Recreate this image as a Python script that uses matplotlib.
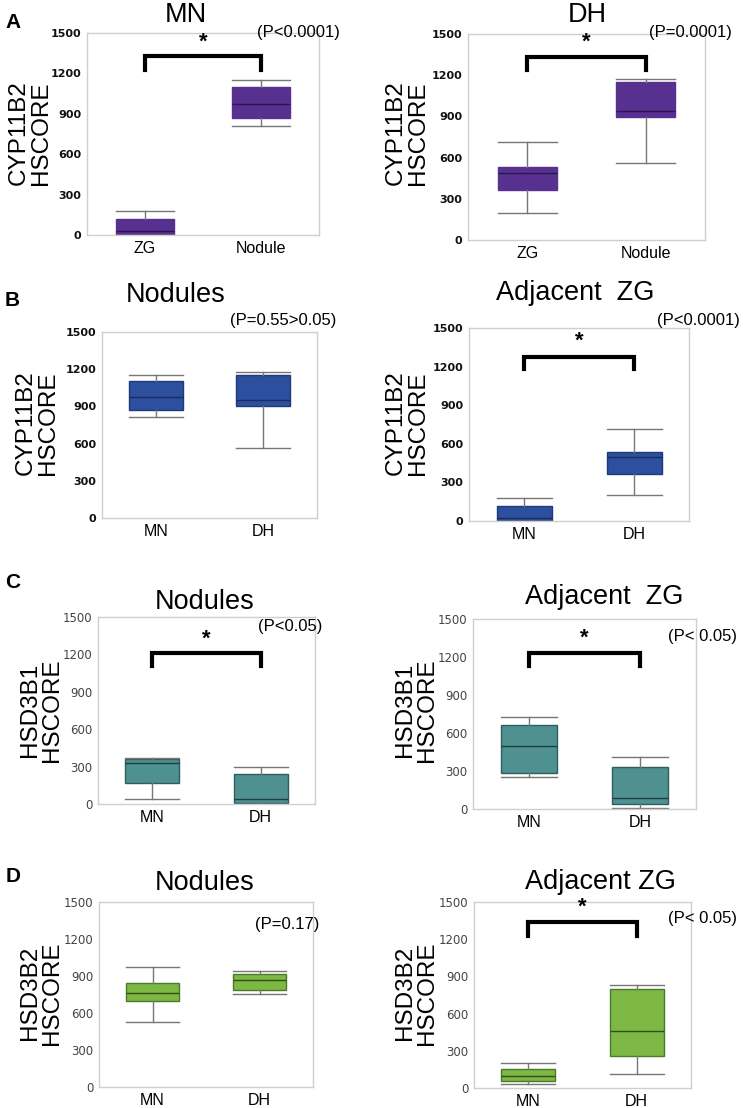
import matplotlib
matplotlib.use("Agg")
import matplotlib.pyplot as plt

W, H = 743, 1108

# box stats per panel: [group1, group2] -> whislo, q1, med, q3, whishi
a1_groups = ["ZG", "Nodule"]
a1_whislo = [0, 808]
a1_q1 = [0, 868]
a1_med = [30, 972]
a1_q3 = [119, 1096]
a1_whishi = [181, 1150]

a2_groups = ["ZG", "Nodule"]
a2_whislo = [194, 559]
a2_q1 = [362, 895]
a2_med = [486, 941]
a2_q3 = [530, 1148]
a2_whishi = [710, 1172]

b1_groups = ["MN", "DH"]
b1_whislo = [814, 563]
b1_q1 = [868, 900]
b1_med = [972, 948]
b1_q3 = [1101, 1152]
b1_whishi = [1152, 1179]

b2_groups = ["MN", "DH"]
b2_whislo = [0, 200]
b2_q1 = [0, 369]
b2_med = [26, 494]
b2_q3 = [120, 533]
b2_whishi = [182, 715]

c1_groups = ["MN", "DH"]
c1_whislo = [37, 0]
c1_q1 = [166, 5]
c1_med = [327, 37]
c1_q3 = [359, 238]
c1_whishi = [372, 295]

c2_groups = ["MN", "DH"]
c2_whislo = [252, 8]
c2_q1 = [284, 37]
c2_med = [496, 84]
c2_q3 = [662, 331]
c2_whishi = [725, 410]

d1_groups = ["MN", "DH"]
d1_whislo = [527, 757]
d1_q1 = [700, 784]
d1_med = [762, 870]
d1_q3 = [843, 919]
d1_whishi = [970, 938]

d2_groups = ["MN", "DH"]
d2_whislo = [32, 113]
d2_q1 = [56, 255]
d2_med = [97, 460]
d2_q3 = [151, 796]
d2_whishi = [202, 831]

yticks = [0, 300, 600, 900, 1200, 1500]

SANS = ["Liberation Sans", "DejaVu Sans"]

fig = plt.figure(figsize=(W / 100, H / 100), dpi=100)


def fx(x):
    return x / W


def fy(y):
    return 1 - y / H


def panel(rect, groups, whislo, q1, med, q3, whishi, color, edge, medc,
          bold_ticks, title, title_xy, ylab, ylab_xy, ptext, p_xy,
          bracket=None):
    x0, y0, x1, y1 = rect
    ax = fig.add_axes([fx(x0), fy(y1), (x1 - x0) / W, (y1 - y0) / H])
    stats = []
    for i, g in enumerate(groups):
        stats.append(dict(label=g, whislo=whislo[i], q1=q1[i], med=med[i],
                          q3=q3[i], whishi=whishi[i], fliers=[]))
    ax.bxp(stats, positions=[1, 2], widths=0.5, capwidths=0.5,
           showfliers=False, patch_artist=True,
           boxprops=dict(facecolor=color, edgecolor=edge, linewidth=1),
           medianprops=dict(color=medc, linewidth=1),
           whiskerprops=dict(color="#777777", linewidth=1),
           capprops=dict(color="#777777", linewidth=1))
    ax.set_xlim(0.5, 2.5)
    ax.set_ylim(0, 1500)
    ax.set_yticks(yticks)
    ax.set_xticks([1, 2])
    ax.set_xticklabels(groups, fontsize=11.5, family=SANS)
    if bold_ticks:
        ax.set_yticklabels([str(t) for t in yticks], fontsize=8,
                           fontweight="bold", color="#111111",
                           family="DejaVu Sans")
    else:
        ax.set_yticklabels([str(t) for t in yticks], fontsize=8.5,
                           color="#444444", family="DejaVu Sans")
    ax.tick_params(length=0, pad=4)
    for s in ax.spines.values():
        s.set_color("#cfcfcf")
        s.set_linewidth(1)
    if bracket is not None:
        top, leg, star = bracket
        ax.plot([1, 1, 2, 2], [leg, top, top, leg], color="black",
                linewidth=3, solid_joinstyle="miter", clip_on=False)
        ax.text(1.5, star, "*", ha="center", va="center", fontsize=16,
                fontweight="bold", family=SANS)
    fig.text(fx(title_xy[0]), fy(title_xy[1]), title, ha="center",
             va="center", fontsize=19.5, family=SANS)
    fig.text(fx(ylab_xy[0]), fy(ylab_xy[1]), ylab, ha="center", va="center",
             rotation=90, fontsize=17.5, family=SANS, linespacing=1.0)
    fig.text(fx(p_xy[0]), fy(p_xy[1]), ptext, ha="left", va="center",
             fontsize=12, family=SANS)
    return ax


purple = "#58308f"
blue = "#2c4f9e"
teal = "#4f9090"
green = "#7db844"

panel((87, 33, 319, 235), a1_groups, a1_whislo, a1_q1, a1_med, a1_q3,
      a1_whishi, purple, purple, "#2a1650", True, "MN", (186, 15),
      "CYP11B2\nHSCORE", (30, 133), "(P<0.0001)", (257, 32),
      bracket=(1326, 1222, 1430))
panel((468, 34, 705, 240), a2_groups, a2_whislo, a2_q1, a2_med, a2_q3,
      a2_whishi, purple, purple, "#2a1650", True, "DH", (587, 15),
      "CYP11B2\nHSCORE", (407, 133), "(P=0.0001)", (649, 33),
      bracket=(1332, 1235, 1440))
panel((102, 332, 317, 518), b1_groups, b1_whislo, b1_q1, b1_med, b1_q3,
      b1_whishi, blue, "#1f3a78", "#1a2c5a", True, "Nodules", (176, 295),
      "CYP11B2\nHSCORE", (37, 423), "(P=0.55>0.05)", (230, 320))
panel((469, 328, 689, 521), b2_groups, b2_whislo, b2_q1, b2_med, b2_q3,
      b2_whishi, blue, "#1f3a78", "#1a2c5a", True, "Adjacent  ZG", (575, 293),
      "CYP11B2\nHSCORE", (407, 423), "(P<0.0001)", (657, 320),
      bracket=(1274, 1180, 1395))
panel((98, 617, 315, 804), c1_groups, c1_whislo, c1_q1, c1_med, c1_q3,
      c1_whishi, teal, "#2f5e5e", "#1f3f3f", False, "Nodules", (205, 602),
      "HSD3B1\nHSCORE", (41, 710), "(P<0.05)", (258, 626),
      bracket=(1211, 1109, 1325))
panel((473, 619, 696, 809), c2_groups, c2_whislo, c2_q1, c2_med, c2_q3,
      c2_whishi, teal, "#2f5e5e", "#1f3f3f", False, "Adjacent  ZG", (604, 597),
      "HSD3B1\nHSCORE", (416, 710), "(P< 0.05)", (668, 636),
      bracket=(1235, 1130, 1350))
panel((99, 902, 313, 1087), d1_groups, d1_whislo, d1_q1, d1_med, d1_q3,
      d1_whishi, green, "#4d7a2a", "#2f4f1a", False, "Nodules", (205, 883),
      "HSD3B2\nHSCORE", (41, 993), "(P=0.17)", (255, 924))
panel((474, 902, 691, 1088), d2_groups, d2_whislo, d2_q1, d2_med, d2_q3,
      d2_whishi, green, "#4d7a2a", "#2f4f1a", False, "Adjacent ZG", (600, 882),
      "HSD3B2\nHSCORE", (416, 993), "(P< 0.05)", (668, 919),
      bracket=(1336, 1223, 1460))

for lab, x, y in [("A", 13, 23), ("B", 12, 300), ("C", 13, 583),
                  ("D", 13, 877)]:
    fig.text(fx(x), fy(y), lab, ha="center", va="center", fontsize=15,
             fontweight="bold", family=SANS)

fig.savefig("out.png", dpi=100)
